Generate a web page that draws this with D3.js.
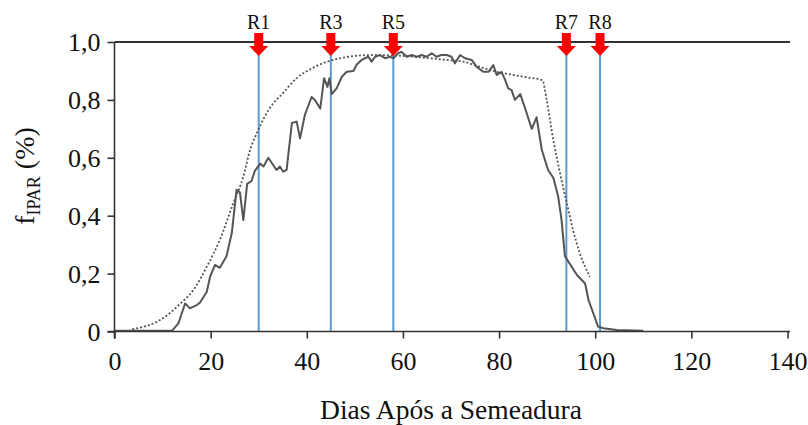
<!DOCTYPE html>
<html><head><meta charset="utf-8">
<script src="https://cdn.jsdelivr.net/npm/d3@7"></script>
<style>body{margin:0;background:#fff}svg{display:block}</style>
</head><body><svg id="c" width="808" height="425"></svg>
<script>
const xTicks=[0,20,40,60,80,100,120,140];
const yTicks=[0,0.2,0.4,0.6,0.8,1.0];
const stageNames=["R1","R3","R5","R7","R8"];
const stageDays=[30,45,58,94,101];
const measuredDays=[0,12,13.3,14,14.7,15.7,17,17.8,19.2,19.9,20.9,21.9,23.3,24.4,25.4,26.1,26.8,27.6,28.5,29.2,30.3,31,32,33,33.7,34.4,35.1,35.8,36.9,37.9,38.6,39.6,41,41.7,42.8,43.6,44.3,44.7,45.2,46.2,47.3,48.3,49.7,50.4,51.4,52.8,53.5,54.2,55.2,56.3,57.3,58,59,59.7,60.8,61.8,62.9,63.9,64.9,66,67,68,69.1,70.1,70.8,71.9,72.9,74.3,75.3,76.7,77.8,78.8,79.5,80.5,81.2,81.9,82.6,83.3,84.4,85.4,86.8,87.8,88.9,90.2,91.3,92.3,93,93.7,94.8,96.2,97.2,97.9,98.6,99.6,100.6,101.7,104.5,110];
const measuredVals=[0.003,0.003,0.028,0.063,0.097,0.08,0.09,0.10,0.137,0.19,0.23,0.22,0.26,0.34,0.49,0.48,0.385,0.51,0.52,0.555,0.58,0.57,0.60,0.575,0.558,0.57,0.552,0.558,0.72,0.725,0.667,0.748,0.81,0.80,0.77,0.875,0.845,0.875,0.82,0.84,0.88,0.897,0.90,0.922,0.938,0.949,0.932,0.949,0.955,0.944,0.949,0.944,0.961,0.966,0.949,0.955,0.949,0.955,0.949,0.961,0.949,0.955,0.955,0.949,0.926,0.955,0.944,0.938,0.915,0.897,0.897,0.92,0.886,0.897,0.872,0.84,0.834,0.80,0.82,0.772,0.70,0.74,0.627,0.558,0.53,0.466,0.385,0.26,0.232,0.195,0.178,0.166,0.109,0.063,0.017,0.011,0.005,0.003];
const modelDays=[3.7,6.8,8.9,11,13.6,16.4,19.2,21.9,24.7,26.8,28.2,29.6,33,34.4,37.9,41.4,44.8,48.3,51.8,55.2,58.7,62.2,65.6,69.1,72.6,75.3,78.8,82.3,85.8,89,89.9,91.3,92.7,94.1,95.4,96.8,98.9];
const modelVals=[0.008,0.02,0.034,0.057,0.095,0.143,0.224,0.316,0.443,0.535,0.627,0.685,0.788,0.812,0.875,0.912,0.935,0.948,0.954,0.955,0.953,0.949,0.944,0.938,0.932,0.918,0.9,0.888,0.878,0.868,0.80,0.66,0.546,0.443,0.35,0.27,0.189];

const SERIF='"Liberation Serif","Times New Roman",serif';
const svg=d3.select("#c");
const x=d3.scaleLinear().domain([0,140]).range([114.5,787.5]);
const y=d3.scaleLinear().domain([0,1]).range([331.5,42]);
const loc=d3.formatLocale({decimal:",",thousands:".",grouping:[3],currency:["",""]});
const f1=loc.format(".1f");

svg.append("line").attr("x1",x(0)).attr("x2",790).attr("y1",y(1)).attr("y2",y(1)).attr("stroke","#333").attr("stroke-width",2);

stageDays.forEach(d=>{
  svg.append("line").attr("x1",x(d)).attr("x2",x(d)).attr("y1",y(1)+12).attr("y2",y(0)).attr("stroke","#5b9bd5").attr("stroke-width",2);
});

svg.append("path").datum(modelDays.map((d,i)=>[d,modelVals[i]])).attr("d",d3.line().x(d=>x(d[0])).y(d=>y(d[1])).curve(d3.curveMonotoneX)).attr("fill","none").attr("stroke","#555").attr("stroke-width",1.8).attr("stroke-dasharray","2,2");
svg.append("path").datum(measuredDays.map((d,i)=>[d,measuredVals[i]])).attr("d",d3.line().x(d=>x(d[0])).y(d=>y(d[1]))).attr("fill","none").attr("stroke","#555").attr("stroke-width",2).attr("stroke-linejoin","round");

const xa=svg.append("g").attr("transform",`translate(0,${y(0)})`).call(d3.axisBottom(x).tickValues(xTicks).tickSize(7).tickSizeOuter(0).tickFormat(d3.format("d")));
const ya=svg.append("g").attr("transform",`translate(${x(0)},0)`).call(d3.axisLeft(y).tickValues(yTicks).tickSize(7).tickSizeOuter(0).tickFormat(d=>d===0?"0":f1(d)));
[xa,ya].forEach(a=>{
  a.attr("font-family",SERIF).attr("font-size",26);
  a.select(".domain").attr("stroke","#333").attr("stroke-width",1.6);
  a.selectAll(".tick line").attr("stroke","#333").attr("stroke-width",1.6);
  a.selectAll("text").attr("fill","#111");
});
xa.select(".domain").attr("d",`M${x(0)-7},0H790`);
xa.selectAll("text").attr("dy",0).attr("y",38);
ya.selectAll("text").attr("x",-14).attr("dy","0.34em");
ya.select(".domain").attr("d",`M0,${y(1)}V${y(0)+7}`);

stageDays.forEach((d,i)=>{
  const cx=x(d);
  svg.append("path").attr("d",`M${cx-4.5},33H${cx+4.5}V46H${cx+9.5}L${cx},56L${cx-9.5},46H${cx-4.5}Z`).attr("fill","#ff0000");
  svg.append("text").attr("x",cx).attr("y",29).attr("text-anchor","middle").attr("font-family",SERIF).attr("font-size",20).attr("fill","#111").text(stageNames[i]);
});

svg.append("text").attr("x",451).attr("y",419).attr("text-anchor","middle").attr("font-family",SERIF).attr("font-size",27.5).attr("fill","#111").text("Dias Após a Semeadura");
const yt=svg.append("text").attr("transform","translate(34,176) rotate(-90)").attr("text-anchor","middle").attr("font-family",SERIF).attr("font-size",28).attr("fill","#111");
yt.append("tspan").text("f");
yt.append("tspan").attr("dy",6).attr("font-size",18).text("IPAR");
yt.append("tspan").attr("dy",-6).text(" (%)");
</script></body></html>
